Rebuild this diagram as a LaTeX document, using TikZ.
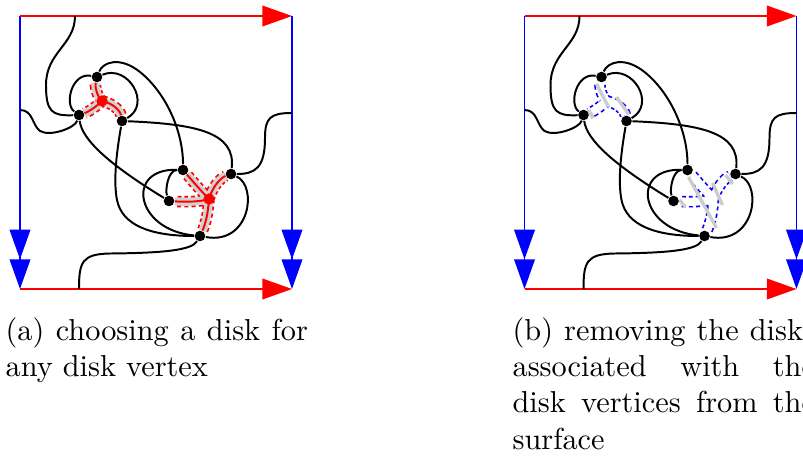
\documentclass[tikz,border=0pt]{standalone}
\usepackage{tikz}
\usetikzlibrary{arrows.meta, backgrounds}

\begin{document}
\begin{tikzpicture}[
    x=0.33pt, y=-0.33pt,
    vtx/.style={circle, fill=black, inner sep=0pt, minimum size=3.5pt},
    huba/.style={circle, fill=red, inner sep=0pt, minimum size=3.7pt},
    hubb/.style={coordinate},
    curve/.style={line width=0.65pt},
    side/.style={line width=0.65pt, -{Triangle[length=9.8pt,width=6.8pt]}},
    twoside/.style={line width=0.65pt, -{Triangle[length=9.8pt,width=6.8pt,sep=0pt]Triangle[length=9.8pt,width=6.8pt]}},
    diskrim/.style={dash pattern=on 1.3pt off 1pt, line width=3.8pt},
    diska/.style={draw=red, diskrim, postaction={draw=black!18, solid, line width=2.7pt}, postaction={draw=red, solid, line width=0.65pt}},
    diskb/.style={draw=blue, diskrim, postaction={draw=white, solid, line width=2.7pt}},
    trace/.style={draw=black!20, line width=1.1pt},
    caption/.style={text width=99.8pt, align=justify, inner sep=0pt}
]
\useasboundingbox (0,0) rectangle (803,455);

\foreach \p/\dx in {a/0, b/504.5}{
\begin{scope}[shift={(\dx,0)}]
% square with identified sides
\coordinate (\p tl) at (20,16);
\coordinate (\p tr) at (292,16);
\coordinate (\p bl) at (20,289);
\coordinate (\p br) at (292,289);
\draw[twoside, blue] (\p tl) -- (\p bl);
\draw[twoside, blue] (\p tr) -- (\p br);
\draw[side, red] (\p tl) -- (\p tr);
\draw[side, red] (\p bl) -- (\p br);
\coordinate (\p et) at (75,16);
\coordinate (\p eb) at (79,289);
\coordinate (\p el) at (20,110);
\coordinate (\p er) at (292,113);
% vertices
\node[vtx] (\p1) at (97,77) {};
\node[vtx] (\p2) at (79,115) {};
\node[vtx] (\p3) at (122,121) {};
\node[vtx] (\p4) at (183,170) {};
\node[vtx] (\p5) at (231,174) {};
\node[vtx] (\p6) at (169,201) {};
\node[vtx] (\p7) at (200,236) {};
\node[hub\p] (\p h1) at (102,101) {};
\node[hub\p] (\p h2) at (209,199) {};
% disks
\begin{scope}[on background layer]
\path[disk\p] (\p h1.center) .. controls (96,95) and (95,85) .. (\p1)
    (\p h1.center) .. controls (96,107) and (88,112) .. (\p2)
    (\p h1.center) .. controls (112,103) and (120,110) .. (\p3);
\path[disk\p] (\p h2.center) .. controls (200,190) and (190,178) .. (\p4)
    (\p h2.center) .. controls (212,188) and (220,178) .. (\p5)
    (\p h2.center) .. controls (200,202) and (185,202) .. (\p6)
    (\p h2.center) .. controls (208,215) and (205,225) .. (\p7);
\end{scope}
% edges
\draw[curve] (\p et) .. controls (75,45) and (46,52) .. (46,85) .. controls (46,112) and (52,116) .. (\p2);
\draw[curve] (\p el) .. controls (33,110) and (32,125) .. (40,131) .. controls (50,137) and (75,128) .. (\p2);
\draw[curve] (\p er) .. controls (270,113) and (265,118) .. (265,138) .. controls (265,168) and (255,174) .. (\p5);
\draw[curve] (\p eb) .. controls (79,262) and (82,254) .. (110,253.5) .. controls (165,253) and (192,250) .. (\p7);
\draw[curve] (\p1) .. controls (72,72) and (64,104) .. (\p2);
\draw[curve] (\p1) .. controls (128,64) and (152,104) .. (\p3);
\draw[curve] (\p1) .. controls (103,62) and (120,56) .. (140,72) .. controls (165,92) and (183,130) .. (\p4);
\draw[curve] (\p2) .. controls (82,140) and (110,165) .. (\p6);
\draw[curve] (\p3) .. controls (117,150) and (113,180) .. (117,200) .. controls (122,225) and (150,236) .. (\p7);
\draw[curve] (\p3) .. controls (195,124) and (236,132) .. (\p5);
\draw[curve] (\p4) .. controls (168,170) and (165,190) .. (\p6);
\draw[curve] (\p4) .. controls (125,168) and (135,230) .. (\p7);
\draw[curve] (\p5) .. controls (258,186) and (250,245) .. (\p7);
\end{scope}
}

% what is left of the removed disks
\begin{scope}[shift={(504.5,0)}, on background layer]
\coordinate (s1) at (92,84);   \coordinate (s2) at (104,107);
\coordinate (s3) at (112,97);  \coordinate (s4) at (124,114);
\coordinate (s5) at (84,110);  \coordinate (s6) at (89,118);
\coordinate (s7) at (184,177); \coordinate (s8) at (212,228);
\coordinate (s9) at (208,183); \coordinate (s10) at (218,205);
\coordinate (s11) at (221,175); \coordinate (s12) at (228,184);
\coordinate (s13) at (175,200); \coordinate (s14) at (181,207);
\draw[trace] (s1) -- (s2);
\draw[trace] (s3) -- (s4);
\draw[trace] (s5) -- (s6);
\draw[trace] (s7) -- (s8);
\draw[trace] (s9) -- (s10);
\draw[trace] (s11) -- (s12);
\draw[trace] (s13) -- (s14);
\end{scope}

\node[caption, anchor=base west] (capa) at (5,340) {(a) choosing a disk for any disk vertex};
\node[caption, anchor=base west] (capb) at (512,340) {(b) removing the disks\linebreak associated with the\linebreak disk vertices from the surface};
\end{tikzpicture}
\end{document}
